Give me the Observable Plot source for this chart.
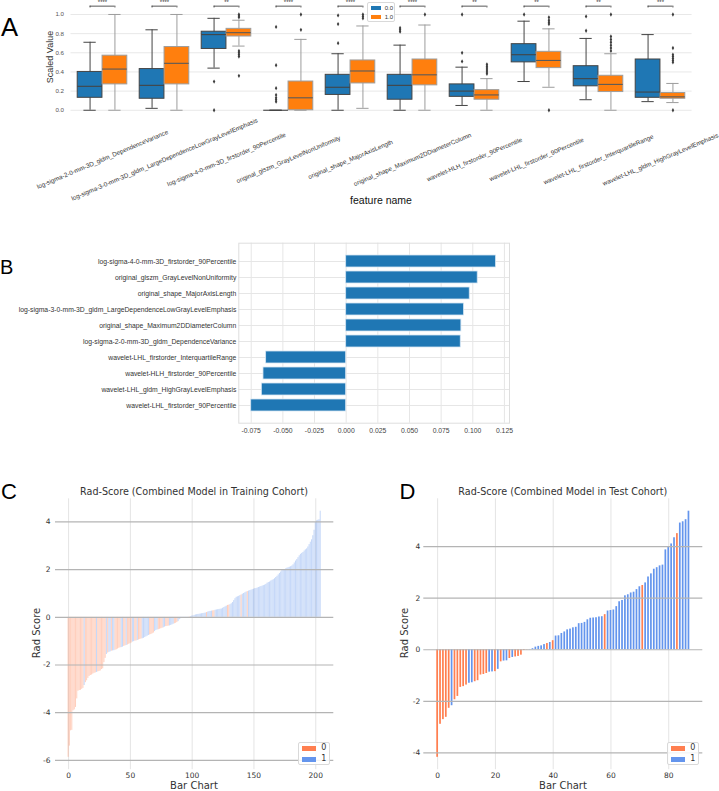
<!DOCTYPE html>
<html><head><meta charset="utf-8">
<script src="https://cdn.jsdelivr.net/npm/d3@7"></script>
<script src="https://cdn.jsdelivr.net/npm/@observablehq/plot@0.6"></script>
<style>
body{margin:0;background:#fff;}
#root{position:relative;width:719px;height:791px;overflow:hidden;background:#fff;}
svg{overflow:visible;}
</style></head><body><div id="root"></div>
<script>
// ---------- Panel A data ----------
const featuresA = ["log-sigma-2-0-mm-3D_gldm_DependenceVariance","log-sigma-3-0-mm-3D_gldm_LargeDependenceLowGrayLevelEmphasis","log-sigma-4-0-mm-3D_firstorder_90Percentile","original_glszm_GrayLevelNonUniformity","original_shape_MajorAxisLength","original_shape_Maximum2DDiameterColumn","wavelet-HLH_firstorder_90Percentile","wavelet-LHL_firstorder_90Percentile","wavelet-LHL_firstorder_InterquartileRange","wavelet-LHL_gldm_HighGrayLevelEmphasis"];
const sigA = ["****","****","**","****","****","****","**","**","**","***"];
const groupsA = ["0.0","1.0"];
const q1G0  = [0.13,0.12,0.64,0.00,0.16,0.11,0.14,0.50,0.25,0.13];
const medG0 = [0.25,0.26,0.79,0.00,0.24,0.26,0.20,0.58,0.33,0.19];
const q3G0  = [0.40,0.43,0.82,0.00,0.37,0.37,0.27,0.69,0.46,0.53];
const loG0  = [0.00,0.02,0.44,0.00,0.00,0.00,0.05,0.30,0.11,0.09];
const hiG0  = [0.71,0.84,0.96,0.00,0.59,0.68,0.45,0.93,0.75,0.79];
const outG0 = [[],[],[0.30,0.00],[0.87,0.47,0.23,0.16,0.13,0.11,0.09],[0.99,0.90,0.70],[0.86,0.84,0.82],[1.00,0.60,0.51],[1.00],[0.98,0.83],[]];
const q1G1  = [0.27,0.27,0.77,0.00,0.28,0.26,0.11,0.44,0.19,0.12];
const medG1 = [0.43,0.49,0.81,0.13,0.41,0.37,0.16,0.52,0.27,0.14];
const q3G1  = [0.57,0.66,0.85,0.30,0.52,0.53,0.21,0.61,0.36,0.18];
const loG1  = [0.00,0.00,0.67,0.00,0.02,0.00,0.00,0.24,0.00,0.08];
const hiG1  = [1.00,1.00,0.94,0.74,0.88,0.89,0.33,0.85,0.59,0.28];
const outG1 = [[],[],[1.00,0.985,0.97,0.62,0.60,0.58,0.56,0.36],[1.00,0.84],[1.00,0.98,0.96],[1.00],[0.48,0.46,0.44,0.42,0.40,0.38],[0.97,0.94,0.92,0.90,0.00],[1.00,0.77,0.74,0.71,0.68,0.65,0.62],[1.00,0.65,0.58,0.56,0.54,0.52,0.50,0.00]];
const yTicksA = [0,0.2,0.4,0.6,0.8,1.0];

// ---------- Panel B data ----------
const featuresB = ["log-sigma-4-0-mm-3D_firstorder_90Percentile","original_glszm_GrayLevelNonUniformity","original_shape_MajorAxisLength","log-sigma-3-0-mm-3D_gldm_LargeDependenceLowGrayLevelEmphasis","original_shape_Maximum2DDiameterColumn","log-sigma-2-0-mm-3D_gldm_DependenceVariance","wavelet-LHL_firstorder_InterquartileRange","wavelet-HLH_firstorder_90Percentile","wavelet-LHL_gldm_HighGrayLevelEmphasis","wavelet-LHL_firstorder_90Percentile"];
const coefB = [0.1184,0.1039,0.0976,0.0931,0.0910,0.0905,-0.0632,-0.0653,-0.0666,-0.0750];
const xTicksB = [-0.075,-0.05,-0.025,0,0.025,0.05,0.075,0.1,0.125];

// ---------- Panel C data (training cohort, sorted rad-score) ----------
const valuesC = [-5.87,-5.40,-4.76,-4.74,-3.92,-3.88,-3.78,-3.42,-3.10,-3.07,
-3.06,-3.02,-2.98,-2.86,-2.74,-2.66,-2.56,-2.48,-2.44,-2.42,
-2.38,-2.35,-2.33,-2.31,-2.29,-2.27,-2.25,-2.19,-2.16,-1.90,
-1.72,-1.56,-1.50,-1.47,-1.45,-1.42,-1.41,-1.40,-1.38,-1.36,
-1.33,-1.30,-1.28,-1.27,-1.25,-1.22,-1.20,-1.18,-1.16,-1.13,
-1.11,-1.08,-1.04,-1.02,-1.00,-0.99,-0.97,-0.95,-0.93,-0.91,
-0.90,-0.88,-0.85,-0.82,-0.79,-0.76,-0.74,-0.72,-0.69,-0.66,
-0.60,-0.55,-0.53,-0.52,-0.50,-0.48,-0.46,-0.44,-0.41,-0.39,
-0.38,-0.37,-0.36,-0.34,-0.32,-0.29,-0.27,-0.25,-0.22,-0.18,
-0.10,-0.06,-0.04,-0.03,-0.02,-0.01,-0.01,0.01,0.02,0.03,
0.05,0.06,0.08,0.10,0.11,0.12,0.13,0.14,0.15,0.16,
0.17,0.18,0.20,0.22,0.24,0.25,0.26,0.27,0.28,0.30,
0.31,0.32,0.33,0.34,0.35,0.38,0.41,0.44,0.47,0.50,
0.51,0.53,0.57,0.62,0.70,0.78,0.84,0.86,0.88,0.91,
0.94,0.97,1.00,1.03,1.06,1.08,1.10,1.12,1.14,1.16,
1.18,1.20,1.21,1.23,1.25,1.27,1.29,1.31,1.33,1.35,
1.38,1.43,1.46,1.48,1.52,1.55,1.58,1.62,1.67,1.72,
1.78,1.84,1.90,1.96,1.98,2.00,2.03,2.06,2.08,2.10,
2.12,2.15,2.20,2.28,2.36,2.42,2.50,2.58,2.64,2.68,
2.72,2.78,2.83,2.87,2.95,3.05,3.15,3.25,3.42,3.65,
3.98,4.04,4.07,4.09,4.45];
const classesC = ("0000000000"+"0001000000"+"0001000000"+"0101101100"+"0001100100"+"0011001000"+"1111110000"+"1110000110"+"0011110001"+"1111111101"+
"1111111111"+"1101111001"+"1111111110"+"0111111111"+"0111101111"+"1111111111"+"1111111111"+"1111111111"+"1111111111"+"1111111111"+"11111").split("");
const xTicksC = [0,50,100,150,200];
const yTicksC = [-6,-4,-2,0,2,4];

// ---------- Panel D data (test cohort) ----------
const valuesD = [-4.17,-2.89,-2.71,-2.62,-2.27,-2.17,-1.94,-1.81,-1.46,-1.43,
-1.37,-1.30,-1.28,-1.24,-1.20,-0.98,-0.96,-0.92,-0.87,-0.86,
-0.85,-0.76,-0.47,-0.44,-0.43,-0.34,-0.30,-0.28,-0.26,-0.21,
-0.03,-0.01,0.01,0.04,0.10,0.13,0.15,0.20,0.24,0.28,
0.35,0.53,0.54,0.63,0.69,0.77,0.80,0.85,0.87,1.01,
1.02,1.06,1.16,1.22,1.23,1.24,1.27,1.28,1.36,1.50,
1.52,1.54,1.67,1.86,1.91,2.09,2.13,2.20,2.23,2.33,
2.44,2.49,2.59,2.82,2.94,3.12,3.18,3.25,3.28,3.87,
3.99,4.10,4.34,4.50,4.91,4.96,5.04,5.37];
const classesD = ("0000010000"+"0110000011"+"0101101000"+"0011111101"+"0111111111"+"1111111101"+"1111111111"+"1011111111"+"11101111").split("");
const xTicksD = [0,20,40,60,80];
const yTicksD = [-4,-2,0,2,4];
const classColors = ["#FF7F50","#6495ED"];

// ---------- helpers ----------
const root = document.getElementById("root");
function place(el, left, top){ el.style.position="absolute"; el.style.left=left+"px"; el.style.top=top+"px"; root.appendChild(el); return el; }
function label(text, cx, cy, size, family, color, rotate){
  const d = document.createElement("div");
  d.textContent = text;
  d.style.cssText = `position:absolute;left:${cx}px;top:${cy}px;transform:translate(-50%,-50%) rotate(${rotate||0}deg);font-size:${size}px;font-family:'${family}';color:${color};white-space:nowrap;line-height:1;`;
  root.appendChild(d);
}
function letter(t, left, top, size){
  const d = document.createElement("div");
  d.textContent = t;
  d.style.cssText = `position:absolute;left:${left}px;top:${top}px;font-size:${size}px;font-family:'Liberation Sans';line-height:1;color:#000;`;
  root.appendChild(d);
}
function legend(left, top, w, h, items, colors, o){
  const box = document.createElement("div");
  box.style.cssText = `position:absolute;left:${left}px;top:${top}px;width:${w}px;height:${h}px;border:1px solid #d9d9d9;border-radius:2px;background:rgba(255,255,255,0.85);box-sizing:border-box;`;
  items.forEach((t,i)=>{
    const p = document.createElement("div");
    p.style.cssText = `position:absolute;left:${o.px}px;top:${o.py + i*o.step}px;width:${o.pw}px;height:${o.ph}px;background:${colors[i]};`;
    box.appendChild(p);
    const s = document.createElement("div");
    s.textContent = t;
    s.style.cssText = `position:absolute;left:${o.tx}px;top:${o.ty + i*o.step}px;transform:translateY(-50%);font-size:${o.fs}px;font-family:'${o.ff}';color:#333;line-height:1;`;
    box.appendChild(s);
  });
  root.appendChild(box);
}
const hyphen = f => d => f(d).replace("\u2212", "-");

// ---------- Panel A ----------
(function(){
  const width = 719, height = 210, mL = 70.5, mR = 27.4;
  const band = (width - mL - mR) / featuresA.length;
  const s0 = featuresA.map((f,i)=>({f, q1:q1G0[i], med:medG0[i], q3:q3G0[i], lo:loG0[i], hi:hiG0[i]}));
  const s1 = featuresA.map((f,i)=>({f, q1:q1G1[i], med:medG1[i], q3:q3G1[i], lo:loG1[i], hi:hiG1[i]}));
  const o0 = featuresA.flatMap((f,i)=>outG0[i].map(v=>({f,v})));
  const o1 = featuresA.flatMap((f,i)=>outG1[i].map(v=>({f,v})));
  const off = 0.2*band;
  const c0 = "#1f77b4", c1 = "#ff7f0e";
  const l0 = "#444444", l1 = "#9d9d9d";
  const svg = Plot.plot({
    width, height, marginLeft: mL, marginRight: mR, marginTop: 0, marginBottom: 94.5,
    style: {fontFamily: "Liberation Sans", background: "transparent"},
    x: {domain: featuresA, padding: 0, axis: null},
    y: {domain: [-0.06, 1.146], axis: null},
    marks: [
      Plot.gridY(yTicksA, {stroke: "#e8e8e8", strokeOpacity: 1, strokeWidth: 1}),
      Plot.axisY(yTicksA, {tickSize: 0, tickPadding: 7, fontSize: 6.2, fill: "#555", tickFormat: d3.format(".1f"), label: null}),
      // whiskers
      Plot.ruleX(s0, {x: "f", y1: "lo", y2: "hi", dx: -off, stroke: l0, strokeWidth: 1}),
      Plot.ruleX(s1, {x: "f", y1: "lo", y2: "hi", dx: off, stroke: l1, strokeWidth: 1}),
      Plot.tickY(s0, {x: "f", y: "lo", insetLeft: 0.2*band, insetRight: 0.6*band, stroke: l0}),
      Plot.tickY(s0, {x: "f", y: "hi", insetLeft: 0.2*band, insetRight: 0.6*band, stroke: l0}),
      Plot.tickY(s1, {x: "f", y: "lo", insetLeft: 0.6*band, insetRight: 0.2*band, stroke: l1}),
      Plot.tickY(s1, {x: "f", y: "hi", insetLeft: 0.6*band, insetRight: 0.2*band, stroke: l1}),
      // boxes
      Plot.rectY(s0, {x: "f", y1: "q1", y2: "q3", fill: c0, stroke: l0, strokeWidth: 1, insetLeft: 0.1*band, insetRight: 0.5*band}),
      Plot.rectY(s1, {x: "f", y1: "q1", y2: "q3", fill: c1, stroke: l1, strokeWidth: 1, insetLeft: 0.5*band, insetRight: 0.1*band}),
      Plot.tickY(s0, {x: "f", y: "med", insetLeft: 0.1*band, insetRight: 0.5*band, stroke: l0, strokeWidth: 1.1}),
      Plot.tickY(s1, {x: "f", y: "med", insetLeft: 0.5*band, insetRight: 0.1*band, stroke: "#5a5a5a", strokeWidth: 1.1}),
      // outliers
      Plot.dot(o0, {x: "f", y: "v", dx: -off, symbol: "diamond", r: 1.3, fill: "#3d3d3d", stroke: "none"}),
      Plot.dot(o1, {x: "f", y: "v", dx: off, symbol: "diamond", r: 1.3, fill: "#3d3d3d", stroke: "none"}),
      // significance brackets
      Plot.tickY(featuresA, {x: d=>d, y: ()=>1.087, insetLeft: 0.3*band, insetRight: 0.3*band, stroke: "#444", strokeWidth: 0.9}),
      Plot.ruleX(featuresA, {x: d=>d, y1: ()=>1.068, y2: ()=>1.087, dx: -off, stroke: "#444", strokeWidth: 0.9}),
      Plot.ruleX(featuresA, {x: d=>d, y1: ()=>1.068, y2: ()=>1.087, dx: off, stroke: "#444", strokeWidth: 0.9}),
      Plot.text(featuresA, {x: d=>d, y: ()=>1.112, text: (d,i)=>sigA[i], lineAnchor: "bottom", fontSize: 6, fill: "#333"}),
      // rotated category labels
      Plot.text(featuresA, {x: d=>d, text: d=>d, frameAnchor: "bottom", dy: 43.5, rotate: -23, textAnchor: "middle", lineAnchor: "middle", fontSize: 6.3, fill: "#333"})
    ]
  });
  place(svg, 0, 0);
  label("Scaled Value", 50, 57, 9, "Liberation Sans", "#333", -90);
  label("feature name", 381, 200, 10.5, "Liberation Sans", "#111", 0);
  letter("A", 1, 15, 25.6);
  legend(366.7, 1.7, 28.5, 20.5, groupsA, [c0, c1], {px: 3, py: 3, step: 9, pw: 10, ph: 4.5, tx: 17, ty: 5.3, fs: 6, ff: "Liberation Sans"});
})();

// ---------- Panel B ----------
(function(){
  const data = featuresB.map((f,i)=>({f, v: coefB[i]}));
  const svg = Plot.plot({
    width: 719, height: 200, marginLeft: 238.3, marginRight: 210, marginTop: 2.7, marginBottom: 17.3,
    style: {fontFamily: "Liberation Sans", background: "transparent"},
    x: {domain: [-0.0848, 0.129], axis: null},
    y: {domain: featuresB, paddingInner: 0.27, paddingOuter: 0.49, axis: null},
    marks: [
      Plot.gridX(xTicksB, {stroke: "#e6e6e6", strokeOpacity: 1}),
      Plot.gridY(featuresB, {stroke: "#e6e6e6", strokeOpacity: 1}),
      Plot.frame({stroke: "#dedede"}),
      Plot.barX(data, {x: "v", y: "f", fill: "#1f77b4", stroke: "#d6e6f3", strokeWidth: 0.8}),
      Plot.axisX(xTicksB, {tickSize: 0, tickPadding: 5, fontSize: 6.8, fill: "#444", tickFormat: hyphen(d3.format(".3f")), label: null}),
      Plot.axisY(featuresB, {tickSize: 0, tickPadding: 2.5, fontSize: 6.8, fill: "#333", label: null})
    ]
  });
  place(svg, 0, 240);
  letter("B", 0, 256.7, 20);
})();

// ---------- Panels C & D ----------
function radPlot(values, classes, xTicks, yTicks, xDomain, yDomain, w, mL, mR, narrow){
  const data = values.map((v,i)=>({i, v, c: classes[i]}));
  const half = 0.4;
  return Plot.plot({
    width: w, height: 311, marginLeft: mL, marginRight: mR, marginTop: 18.3, marginBottom: 21.8,
    style: {fontFamily: "DejaVu Sans", background: "transparent"},
    x: {domain: xDomain, axis: null},
    y: {domain: yDomain, axis: null},
    color: {type: "ordinal", domain: ["0","1"], range: classColors},
    marks: [
      Plot.gridX(xTicks, {stroke: "#e4e4e4", strokeOpacity: 1}),
      Plot.rectY(data, {x1: d=>d.i-half, x2: d=>d.i+half, y1: ()=>0, y2: "v", fill: "c",
        fillOpacity: narrow ? 0.38 : 1, insetLeft: narrow ? 0 : 0.3, insetRight: narrow ? 0 : 0.3}),
      Plot.gridY(yTicks, {stroke: "#b4b4b4", strokeOpacity: 1, strokeWidth: 1.2}),
      Plot.axisX(xTicks, {tickSize: 0, tickPadding: 3, fontSize: 7.5, fill: "#333", label: null}),
      Plot.axisY(yTicks, {tickSize: 0, tickPadding: narrow ? 5 : 3.5, fontSize: 7.5, fill: "#333", label: null, tickFormat: d=>String(d)})
    ]
  });
}
(function(){
  const svgC = radPlot(valuesC, classesC, xTicksC, yTicksC, [-10.6, 214.6], [-6.39, 4.97], 360, 55, 26.7, true);
  place(svgC, 0, 480);
  const svgD = radPlot(valuesD, classesD, xTicksD, yTicksD, [-4.79, 91.79], [-4.65, 5.85], 359, 63.3, 16.7, false);
  place(svgD, 360, 480);
  label("Rad-Score (Combined Model in Training Cohort)", 194, 492, 9.6, "DejaVu Sans", "#333", 0);
  label("Rad-Score (Combined Model in Test Cohort)", 562.8, 492, 9.6, "DejaVu Sans", "#333", 0);
  label("Rad Score", 36.7, 633, 10, "DejaVu Sans", "#333", -90);
  label("Rad Score", 405, 633, 10, "DejaVu Sans", "#333", -90);
  label("Bar Chart", 194, 786, 10, "DejaVu Sans", "#333", 0);
  label("Bar Chart", 563, 786, 10, "DejaVu Sans", "#333", 0);
  letter("C", 1, 481, 22);
  letter("D", 399.5, 481, 22);
  const lo = {px: 3.3, py: 3.3, step: 11, pw: 14, ph: 5, tx: 22.5, ty: 5.8, fs: 8, ff: "DejaVu Sans"};
  legend(297.7, 741.7, 32.5, 23.5, ["0","1"], classColors, lo);
  legend(666.7, 741.7, 32, 23.5, ["0","1"], classColors, lo);
})();
</script></body></html>
